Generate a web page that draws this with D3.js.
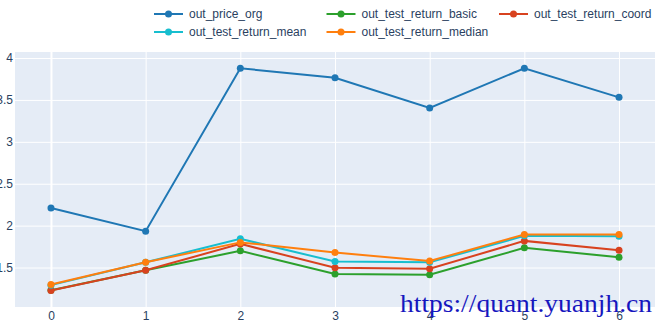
<!DOCTYPE html>
<html>
<head>
<meta charset="utf-8">
<script src="https://cdn.jsdelivr.net/npm/d3@7"></script>
<style>
  body { margin: 0; background: #fff; }
  svg { display: block; font-family: "Liberation Sans", Arial, sans-serif; }
</style>
</head>
<body>
<svg width="663" height="327"></svg>
<script>
// 数据
const xValues = [0, 1, 2, 3, 4, 5, 6];
const seriesNames = ["out_price_org", "out_test_return_basic", "out_test_return_coord",
  "out_test_return_mean", "out_test_return_median"];
const priceOrg = [2.21, 1.934, 3.878, 3.764, 3.405, 3.878, 3.531];
const returnBasic = [1.228, 1.468, 1.699, 1.424, 1.414, 1.735, 1.623];
const returnCoord = [1.225, 1.468, 1.782, 1.497, 1.485, 1.818, 1.707];
const returnMean = [1.29, 1.562, 1.842, 1.571, 1.562, 1.878, 1.872];
const returnMedian = [1.297, 1.563, 1.80, 1.679, 1.577, 1.895, 1.895];
const yTicks = [1.5, 2, 2.5, 3, 3.5, 4];
const colors = ["#1f77b4", "#2ca02c", "#d8421f", "#17becf", "#ff7f0e"];

const allSeries = [priceOrg, returnBasic, returnCoord, returnMean, returnMedian];

const plot = { left: 15, right: 655, top: 52, bottom: 307 };

const svg = d3.select("svg");

const x = d3.scaleLinear().domain([-0.38, 6.38]).range([plot.left, plot.right]);
const y = d3.scaleLinear().domain([1.029, 4.072]).range([plot.bottom, plot.top]);

// 背景
svg.append("rect")
  .attr("x", plot.left).attr("y", plot.top)
  .attr("width", plot.right - plot.left).attr("height", plot.bottom - plot.top)
  .attr("fill", "#e5ecf6");

// 网格线
const gx = svg.append("g")
  .attr("transform", `translate(0, ${plot.bottom})`)
  .call(d3.axisBottom(x).tickValues(xValues).tickFormat(d3.format("d"))
    .tickSize(-(plot.bottom - plot.top)).tickPadding(4));
gx.select(".domain").remove();
gx.selectAll("line")
  .attr("stroke", "#fff")
  .attr("stroke-width", d => d === 0 ? 2 : 1);
gx.selectAll("text")
  .attr("fill", "#2a3f5f").style("font-size", "12px")
  .style("font-family", "'Liberation Sans', Arial, sans-serif");

const gy = svg.append("g")
  .attr("transform", `translate(${plot.left}, 0)`)
  .call(d3.axisLeft(y).tickValues(yTicks).tickFormat(d => String(d))
    .tickSize(-(plot.right - plot.left)).tickPadding(2));
gy.select(".domain").remove();
gy.selectAll("line").attr("stroke", "#fff").attr("stroke-width", 1);
gy.selectAll("text")
  .attr("fill", "#2a3f5f").style("font-size", "12px")
  .style("font-family", "'Liberation Sans', Arial, sans-serif");

// 折线
const line = d3.line().x((d, i) => x(xValues[i])).y(d => y(d));

allSeries.forEach((vals, k) => {
  const g = svg.append("g");
  g.append("path")
    .datum(vals)
    .attr("d", line)
    .attr("fill", "none")
    .attr("stroke", colors[k])
    .attr("stroke-width", 2);
  g.selectAll("circle")
    .data(vals)
    .enter()
    .append("circle")
    .attr("cx", (d, i) => x(xValues[i]))
    .attr("cy", d => y(d))
    .attr("r", 3.5)
    .attr("fill", colors[k]);
});

// 图例
const legend = svg.append("g");
seriesNames.forEach((name, k) => {
  const col = k % 3, row = Math.floor(k / 3);
  const lx = 154 + col * 172.5, ly = 14 + row * 18;
  const item = legend.append("g").attr("transform", `translate(${lx}, ${ly})`);
  item.append("line")
    .attr("x1", 0).attr("x2", 29)
    .attr("stroke", colors[k]).attr("stroke-width", 2);
  item.append("circle").attr("cx", 14.5).attr("r", 3.5).attr("fill", colors[k]);
  item.append("text")
    .attr("x", 35).attr("dy", "0.35em")
    .attr("fill", "#2a3f5f").style("font-size", "12px")
    .text(name);
});

// 水印
svg.append("text")
  .attr("x", 400).attr("y", 312)
  .attr("fill", "#1616be")
  .attr("textLength", 252)
  .attr("lengthAdjust", "spacingAndGlyphs")
  .style("font-family", "'Liberation Serif', 'DejaVu Serif', serif")
  .style("font-size", "26px")
  .text("https://quant.yuanjh.cn");
</script>
</body>
</html>
